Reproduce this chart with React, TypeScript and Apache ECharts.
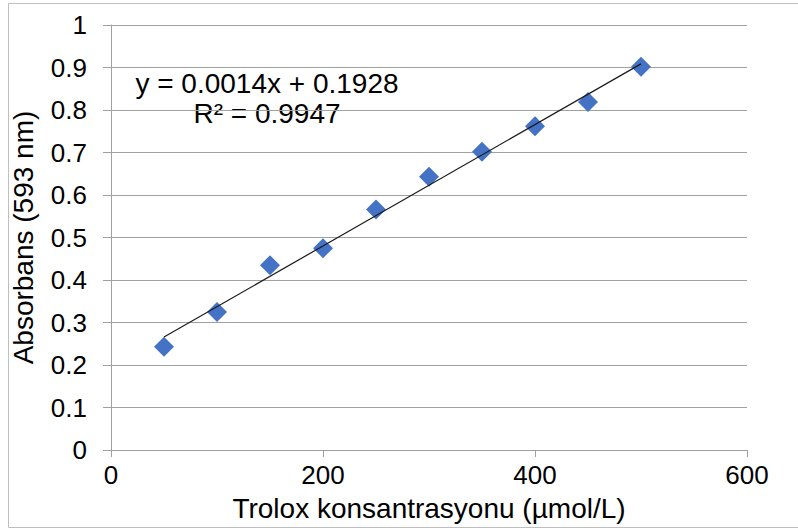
import React, { useEffect, useRef } from "react";
import * as echarts from "echarts";

const concentrations = [50, 100, 150, 200, 250, 300, 350, 400, 450, 500];
const absorbances = [0.243, 0.325, 0.435, 0.475, 0.566, 0.643, 0.702, 0.762, 0.819, 0.902];
const equationText = "y = 0.0014x + 0.1928";
const r2Text = "R² = 0.9947";
const xTitle = "Trolox konsantrasyonu (µmol/L)";
const yTitle = "Absorbans (593 nm)";

function linearFit(xs: number[], ys: number[]) {
  const n = xs.length;
  const mx = xs.reduce((a, b) => a + b, 0) / n;
  const my = ys.reduce((a, b) => a + b, 0) / n;
  let sxy = 0;
  let sxx = 0;
  for (let i = 0; i < n; i++) {
    sxy += (xs[i] - mx) * (ys[i] - my);
    sxx += (xs[i] - mx) * (xs[i] - mx);
  }
  const slope = sxy / sxx;
  return { slope, intercept: my - slope * mx };
}

export default function App() {
  const ref = useRef<HTMLDivElement>(null);
  useEffect(() => {
    if (!ref.current) return;
    const chart = echarts.init(ref.current, null, { renderer: "svg" });
    const fit = linearFit(concentrations, absorbances);
    const x0 = concentrations[0];
    const x1 = concentrations[concentrations.length - 1];
    const trend = [
      [x0, fit.slope * x0 + fit.intercept],
      [x1, fit.slope * x1 + fit.intercept],
    ];
    const font = "'Liberation Sans', Arial, sans-serif";
    chart.setOption({
      animation: false,
      backgroundColor: "#ffffff",
      grid: { left: 111, right: 51, top: 25, bottom: 81 },
      xAxis: {
        type: "value",
        min: 0,
        max: 600,
        interval: 200,
        name: xTitle,
        nameLocation: "middle",
        nameGap: 44,
        nameTextStyle: { fontFamily: font, fontSize: 28, color: "#000" },
        axisLine: { show: true, lineStyle: { color: "#a0a0a0", width: 1 } },
        axisTick: { show: true, length: 7, lineStyle: { color: "#a0a0a0" } },
        axisLabel: { fontFamily: font, fontSize: 26, color: "#000", margin: 12 },
        splitLine: { show: false },
      },
      yAxis: {
        type: "value",
        min: 0,
        max: 1,
        interval: 0.1,
        name: yTitle,
        nameLocation: "middle",
        nameGap: 74,
        nameTextStyle: { fontFamily: font, fontSize: 28, color: "#000" },
        axisLine: { show: true, lineStyle: { color: "#a0a0a0", width: 1 } },
        axisTick: { show: true, length: 8, lineStyle: { color: "#a0a0a0" } },
        axisLabel: { fontFamily: font, fontSize: 26, color: "#000", margin: 24 },
        splitLine: { show: true, lineStyle: { color: "#a0a0a0", width: 1 } },
      },
      series: [
        {
          type: "line",
          data: trend,
          symbol: "none",
          lineStyle: { color: "#1a1a1a", width: 1.2 },
          z: 3,
        },
        {
          type: "scatter",
          data: concentrations.map((c, i) => [c, absorbances[i]]),
          symbol: "diamond",
          symbolSize: [20, 20],
          itemStyle: { color: "#4472C4", opacity: 1 },
          z: 2,
        },
      ],
      graphic: [
        {
          type: "rect",
          shape: { x: 8.5, y: 3.5, width: 800, height: 524 },
          style: { fill: "none", stroke: "#bfbfbf", lineWidth: 1 },
          silent: true,
        },
        {
          type: "text",
          x: 267,
          y: 83,
          style: {
            text: equationText,
            fontFamily: font,
            fontSize: 28,
            fill: "#000",
            textAlign: "center",
            textVerticalAlign: "middle",
          },
        },
        {
          type: "text",
          x: 267,
          y: 113,
          style: {
            text: r2Text,
            fontFamily: font,
            fontSize: 28,
            fill: "#000",
            textAlign: "center",
            textVerticalAlign: "middle",
          },
        },
      ],
    });
    return () => chart.dispose();
  }, []);
  return (
    <div
      ref={ref}
      style={{ position: "fixed", left: 0, top: 0, width: 798, height: 531 }}
    />
  );
}
